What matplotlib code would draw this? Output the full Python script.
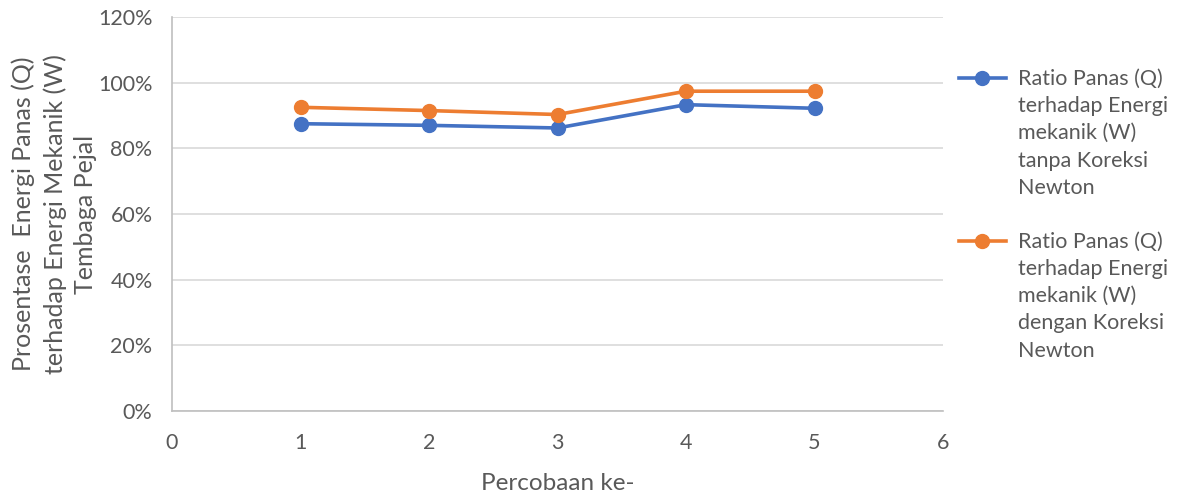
import numpy as np
import matplotlib.pyplot as plt
from matplotlib.ticker import PercentFormatter, MultipleLocator
from matplotlib.legend_handler import HandlerLine2D

plt.rcParams['font.family'] = ['Lato', 'DejaVu Sans']

percobaan = [1, 2, 3, 4, 5]
tanpa_koreksi = [0.875, 0.870, 0.862, 0.933, 0.922]
dengan_koreksi = [0.925, 0.915, 0.903, 0.974, 0.974]

label_tanpa = "Ratio Panas (Q)\nterhadap Energi\nmekanik (W)\ntanpa Koreksi\nNewton"
label_dengan = "Ratio Panas (Q)\nterhadap Energi\nmekanik (W)\ndengan Koreksi\nNewton"

LINE_PX = 28  # distance between legend text lines, in pixels


class TopLineHandler(HandlerLine2D):
    # put the legend marker next to the first line of a multi-line label
    def create_artists(self, legend, orig_handle, xdescent, ydescent, width, height, fontsize, trans):
        arts = super().create_artists(legend, orig_handle, xdescent, ydescent, width, height, fontsize, trans)
        shift = 2 * LINE_PX * 72 / 100
        for a in arts:
            a.set_ydata(np.asarray(a.get_ydata()) + shift)
        return arts


grey = '#595959'
fig = plt.figure(figsize=(11.81, 4.94), dpi=100)
ax = fig.add_axes([172/1181, 1 - 411/494, (943-172)/1181, (411-17)/494])

ax.plot(percobaan, tanpa_koreksi, color='#4472C4', lw=2.6, marker='o', ms=10, label=label_tanpa)
ax.plot(percobaan, dengan_koreksi, color='#ED7D31', lw=2.6, marker='o', ms=10, label=label_dengan)

ax.set_xlim(0, 6)
ax.set_ylim(0, 1.2)
ax.xaxis.set_major_locator(MultipleLocator(1))
ax.yaxis.set_major_locator(MultipleLocator(0.2))
ax.yaxis.set_major_formatter(PercentFormatter(1.0, decimals=0))
ax.grid(axis='y', color='#d9d9d9', lw=1.2)
ax.set_axisbelow(True)
for s in ['top', 'right']:
    ax.spines[s].set_visible(False)
for s in ['left', 'bottom']:
    ax.spines[s].set_color('#bfbfbf')
    ax.spines[s].set_linewidth(1.2)
ax.tick_params(length=0, labelsize=15.5, colors=grey, pad=14)
ax.tick_params(axis='x', pad=16)

ax.set_xlabel('Percobaan ke-', fontsize=17.5, color=grey, labelpad=14)
ax.set_ylabel('Prosentase  Energi Panas (Q)\nterhadap Energi Mekanik (W)\nTembaga Pejal',
              fontsize=18, color=grey, labelpad=0.5, linespacing=1.4)

leg = fig.legend(loc='upper left', bbox_to_anchor=(950/1181, 1 - 60/494), frameon=False,
                 labelcolor=grey, handlelength=2.2, handletextpad=0.55,
                 labelspacing=1.55, borderaxespad=0,
                 handler_map={plt.Line2D: TopLineHandler()},
                 prop={'size': 15.5, 'family': ['Lato']})
for t in leg.get_texts():
    t.set_linespacing(1.46)

fig.savefig('out.png', dpi=100)
